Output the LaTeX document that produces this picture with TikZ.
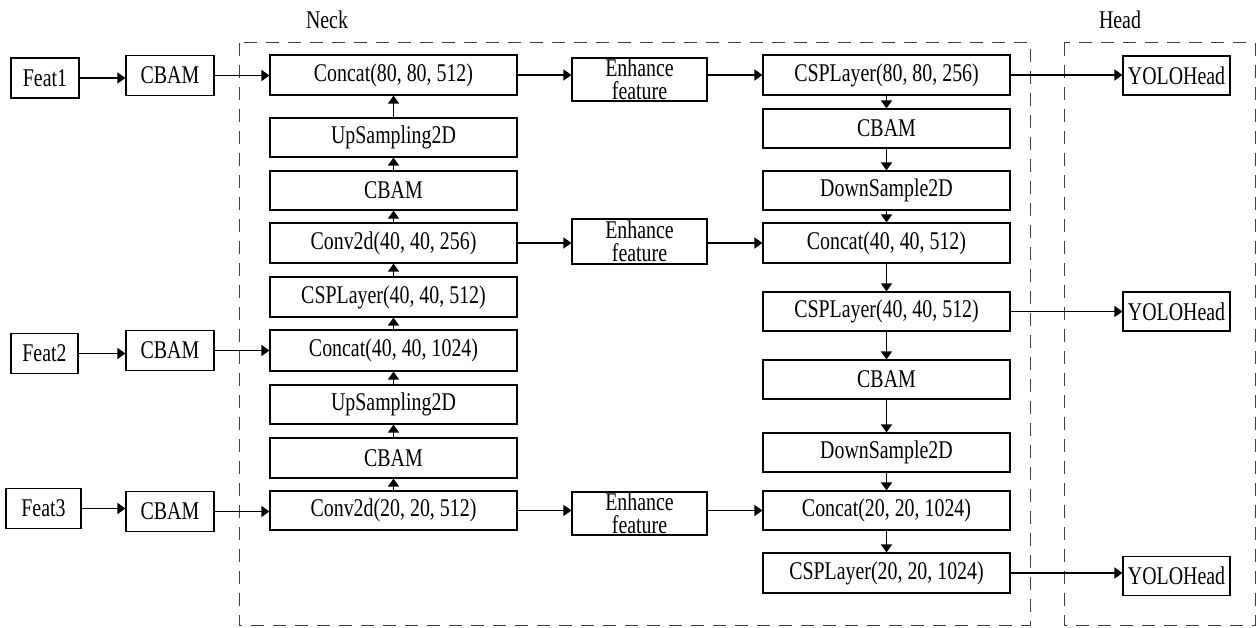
\documentclass[tikz,border=0pt]{standalone}
\usepackage{fontspec}
\setmainfont{Liberation Serif}[FakeStretch=0.78]
\usetikzlibrary{arrows.meta}
\begin{document}
\begin{tikzpicture}[x=1pt,y=-1pt,
  blk/.style={draw=black, line width=1.1pt, inner sep=0pt, minimum height=40pt,
    font=\fontsize{25.5}{23}\selectfont, align=center},
  colbox/.style={blk, minimum width=247pt},
  featbox/.style={blk, minimum width=68pt},
  cbbox/.style={blk, minimum width=88pt},
  enbox/.style={blk, minimum width=135pt, minimum height=43pt},
  yhbox/.style={blk, minimum width=107pt, minimum height=39pt},
  arr/.style={line width=1.2pt, -{Triangle[length=8pt,width=11pt]}},
  region/.style={draw=black!75, line width=1pt, dash pattern=on 13pt off 9pt},
  lbl/.style={inner sep=0pt, font=\fontsize{25.5}{23}\selectfont}]
\useasboundingbox (0,0) rectangle (1258,628);
\fill[white] (0,0) rectangle (1258,628);

% regions
\draw[region] (239,43) rectangle (1030,625);
\draw[region] (1064,43) rectangle (1255,625);
\node[lbl] (neck) at (327,20) {Neck};
\node[lbl] (head) at (1120,20) {Head};

% inputs
\node[featbox] (feat1) at (45,78) {Feat1};
\node[cbbox] (cb1) at (170,75.5) {CBAM};
\node[featbox, minimum width=67pt] (feat2) at (44.5,353.5) {Feat2};
\node[cbbox] (cb2) at (170,350.5) {CBAM};
\node[featbox, minimum width=75pt] (feat3) at (43.5,508.5) {Feat3};
\node[cbbox] (cb3) at (170,511.5) {CBAM};

% left column
\node[colbox] (c80) at (393.5,75) {Concat(80, 80, 512)};
\node[colbox, minimum height=39pt] (up1) at (393.5,137.5) {UpSampling2D};
\node[colbox, minimum height=39pt] (cbl1) at (393.5,190.5) {CBAM};
\node[colbox] (conv40) at (393.5,243) {Conv2d(40, 40, 256)};
\node[colbox] (cspl40) at (393.5,297) {CSPLayer(40, 40, 512)};
\node[colbox, minimum height=41pt] (c40l) at (393.5,350.5) {Concat(40, 40, 1024)};
\node[colbox, minimum height=39pt] (up2) at (393.5,404.5) {UpSampling2D};
\node[colbox] (cbl2) at (393.5,458) {CBAM};
\node[colbox, minimum height=39pt] (conv20) at (393.5,510.5) {Conv2d(20, 20, 512)};

% enhance
\node[enbox] (en1) at (639.5,79.5) {Enhance\\feature};
\node[enbox, minimum height=45pt] (en2) at (639.5,241.5) {Enhance\\feature};
\node[enbox] (en3) at (639.5,513.5) {Enhance\\feature};

% right column
\node[colbox] (csp80) at (886.5,75) {CSPLayer(80, 80, 256)};
\node[colbox, minimum height=39pt] (cbr1) at (886.5,128.5) {CBAM};
\node[colbox, minimum height=39pt] (ds1) at (886.5,190.5) {DownSample2D};
\node[colbox] (c40r) at (886.5,243) {Concat(40, 40, 512)};
\node[colbox, minimum height=39pt] (csp40r) at (886.5,311.5) {CSPLayer(40, 40, 512)};
\node[colbox, minimum height=39pt] (cbr2) at (886.5,379.5) {CBAM};
\node[colbox, minimum height=39pt] (ds2) at (886.5,452.5) {DownSample2D};
\node[colbox, minimum height=39pt] (c20) at (886.5,510.5) {Concat(20, 20, 1024)};
\node[colbox] (csp20) at (886.5,573) {CSPLayer(20, 20, 1024)};

% heads
\node[yhbox] (yh1) at (1176.5,75.5) {YOLOHead};
\node[yhbox] (yh2) at (1176.5,311.5) {YOLOHead};
\node[yhbox] (yh3) at (1176.5,576) {YOLOHead};

% input arrows
\draw[arr] (feat1.east) -- (feat1.east -| cb1.west);
\draw[arr] (cb1.east) -- (cb1.east -| c80.west);
\draw[arr] (feat2.east) -- (feat2.east -| cb2.west);
\draw[arr] (cb2.east) -- (cb2.east -| c40l.west);
\draw[arr] (feat3.east) -- (feat3.east -| cb3.west);
\draw[arr] (cb3.east) -- (cb3.east -| conv20.west);

% left column upward
\draw[arr] (conv20.north) -- (cbl2.south);
\draw[arr] (cbl2.north) -- (up2.south);
\draw[arr] (up2.north) -- (c40l.south);
\draw[arr] (c40l.north) -- (cspl40.south);
\draw[arr] (cspl40.north) -- (conv40.south);
\draw[arr] (conv40.north) -- (cbl1.south);
\draw[arr] (cbl1.north) -- (up1.south);
\draw[arr] (up1.north) -- (c80.south);

% enhance arrows
\draw[arr] (c80.east) -- (c80.east -| en1.west);
\draw[arr] (en1.east |- c80.east) -- (csp80.west);
\draw[arr] (conv40.east) -- (conv40.east -| en2.west);
\draw[arr] (en2.east |- conv40.east) -- (c40r.west);
\draw[arr] (conv20.east) -- (conv20.east -| en3.west);
\draw[arr] (en3.east |- conv20.east) -- (c20.west);

% right column downward
\draw[arr] (csp80.south) -- (cbr1.north);
\draw[arr] (cbr1.south) -- (ds1.north);
\draw[arr] (ds1.south) -- (c40r.north);
\draw[arr] (c40r.south) -- (csp40r.north);
\draw[arr] (csp40r.south) -- (cbr2.north);
\draw[arr] (cbr2.south) -- (ds2.north);
\draw[arr] (ds2.south) -- (c20.north);
\draw[arr] (c20.south) -- (csp20.north);

% head arrows
\draw[arr] (csp80.east) -- (csp80.east -| yh1.west);
\draw[arr] (csp40r.east) -- (csp40r.east -| yh2.west);
\draw[arr] (csp20.east) -- (csp20.east -| yh3.west);
\end{tikzpicture}
\end{document}
